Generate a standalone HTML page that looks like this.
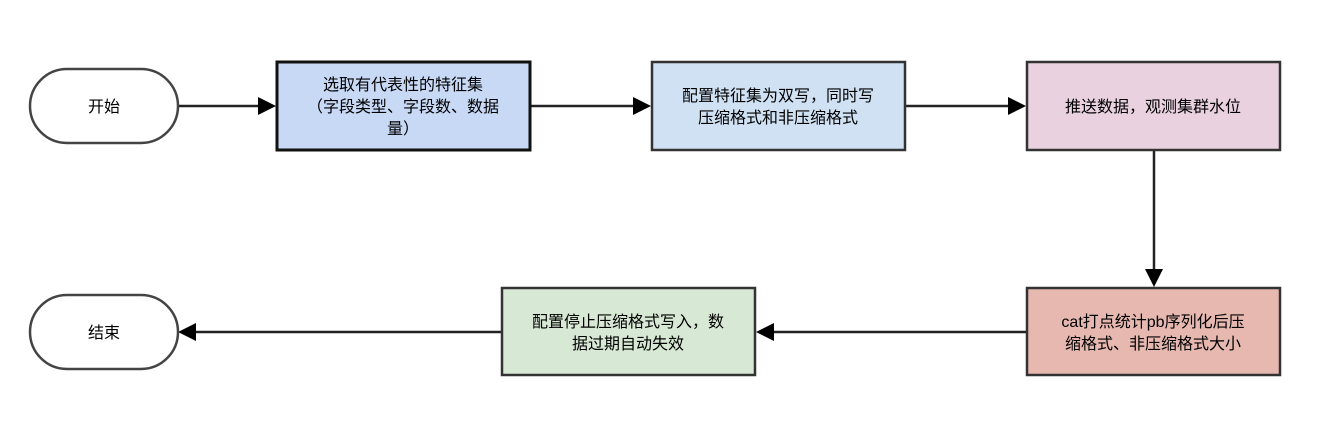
<!DOCTYPE html>
<html><head><meta charset="utf-8"><style>
html,body{margin:0;padding:0;background:#fff;width:1326px;height:438px;overflow:hidden}
text{font-family:"Liberation Sans","Noto Sans CJK SC",sans-serif;font-size:16px;fill:#000}
</style></head><body>
<svg width="1326" height="438" viewBox="0 0 1326 438" xmlns="http://www.w3.org/2000/svg">
<g stroke="#222" stroke-width="2.5" fill="none">
<line x1="178" y1="106" x2="260" y2="106"/>
<line x1="531" y1="106" x2="635" y2="106"/>
<line x1="906" y1="106" x2="1010" y2="106"/>
<line x1="1154" y1="151" x2="1154" y2="271"/>
<line x1="1026" y1="332" x2="772" y2="332"/>
<line x1="501" y1="332" x2="194" y2="332"/>
</g>
<g fill="#000">
<polygon points="258,97 276,106 258,115"/>
<polygon points="633,97 651,106 633,115"/>
<polygon points="1008,97 1026,106 1008,115"/>
<polygon points="1145,269 1154,287 1163,269"/>
<polygon points="774,323 756,332 774,341"/>
<polygon points="196,323 178,332 196,341"/>
</g>
<rect x="30" y="69" width="148" height="74" rx="37" fill="#fff" stroke="#444" stroke-width="2.5"/>
<rect x="30" y="295" width="148" height="74" rx="37" fill="#fff" stroke="#444" stroke-width="2.5"/>
<rect x="277" y="62" width="253" height="88" fill="#c8d9f6" stroke="#111" stroke-width="3"/>
<rect x="652" y="62" width="253" height="88" fill="#cfe1f3" stroke="#333" stroke-width="2.5"/>
<rect x="1027" y="62" width="253" height="88" fill="#e9d1df" stroke="#333" stroke-width="2.5"/>
<rect x="1027" y="288" width="253" height="87" fill="#e6b8b0" stroke="#333" stroke-width="2.5"/>
<rect x="502" y="288" width="253" height="87" fill="#d7e8d4" stroke="#333" stroke-width="2.5"/>
<g text-anchor="middle">
<text x="104" y="112">开始</text>
<text x="104" y="338">结束</text>
<text x="403" y="90">选取有代表性的特征集</text>
<text x="403" y="112">（字段类型、字段数、数据</text>
<text x="403" y="134">量）</text>
<text x="778" y="101">配置特征集为双写，同时写</text>
<text x="778" y="123">压缩格式和非压缩格式</text>
<text x="1153" y="112">推送数据，观测集群水位</text>
<text x="1153" y="327">cat打点统计pb序列化后压</text>
<text x="1153" y="349">缩格式、非压缩格式大小</text>
<text x="628" y="327">配置停止压缩格式写入，数</text>
<text x="628" y="349">据过期自动失效</text>
</g>
</svg>
</body></html>
